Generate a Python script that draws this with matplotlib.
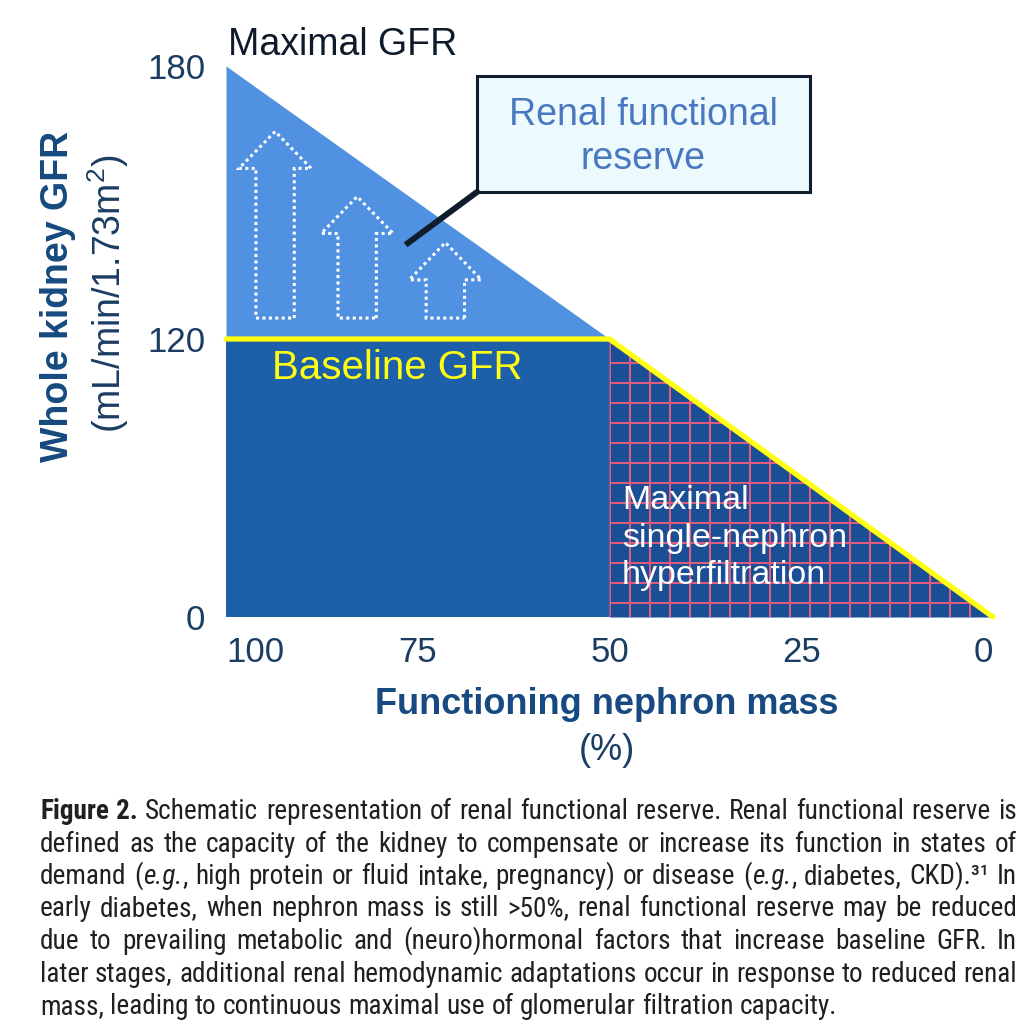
import re
import numpy as np
import matplotlib
matplotlib.use("Agg")
import matplotlib.pyplot as plt
from matplotlib.patches import Polygon, Rectangle
from matplotlib.lines import Line2D
from matplotlib import font_manager as fm

# ---- data (schematic values) ----
mass_pts = [100, 50, 0]            # functioning nephron mass (%)
baseline_gfr = [120, 120, 0]       # baseline GFR
maximal_gfr = [180, 120, 0]        # maximal GFR
x_ticks = [100, 75, 50, 25, 0]
y_ticks = [0, 120, 180]

# dotted "reserve" arrows: centre x, neck y, tip y (all start at arrow_base)
arrow_x = [93.6, 82.9, 71.4]
arrow_neck = [157.5, 143.2, 133.0]
arrow_tip = [165.6, 151.3, 141.2]
arrow_base = 124.6

caption_lines = [
    "**Figure** **2.** Schematic representation of renal functional reserve. Renal functional reserve is",
    "defined as the capacity of the kidney to compensate or increase its function in states of",
    "demand (*e.g.*, high protein or fluid intake, pregnancy) or disease (*e.g.*, diabetes, CKD).\u00b3\u00b9 In",
    "early diabetes, when nephron mass is still >50%, renal functional reserve may be reduced",
    "due to prevailing metabolic and (neuro)hormonal factors that increase baseline GFR. In",
    "later stages, additional renal hemodynamic adaptations occur in response to reduced renal",
    "mass, leading to continuous maximal use of glomerular filtration capacity.",
]

# colours
LIGHT = "#5091e2"
DARK = "#1d5fa8"
DARK2 = "#1a4f96"
GRIDRED = "#e65a7e"
YELLOW = "#ffff14"
NAVY = "#1b3d63"
NAVY_B = "#164a80"

plt.rcParams['font.family'] = ['Liberation Sans', 'DejaVu Sans']
plt.rcParams['mathtext.fontset'] = 'custom'
plt.rcParams['mathtext.rm'] = 'Liberation Sans'

fig = plt.figure(figsize=(10.23, 10.24), dpi=100)
W, H = 1023, 1024
ax = fig.add_axes([226 / W, 1 - 617 / H, (993 - 226) / W, (617 - 66) / H])


# piecewise y scale: the schematic stretches the 120-180 band
def fwd(y):
    y = np.asarray(y, float)
    return np.where(y <= 120, y * 278 / 120, 278 + (y - 120) * 273 / 60)


def inv(v):
    v = np.asarray(v, float)
    return np.where(v <= 278, v * 120 / 278, 120 + (v - 278) * 60 / 273)


ax.set_yscale('function', functions=(fwd, inv))
ax.set_xlim(100, 0)
ax.set_ylim(0, 180)

# areas
ax.fill_between(mass_pts, baseline_gfr, maximal_gfr, color=LIGHT, lw=0, zorder=1)
ax.fill_between(mass_pts[:2], 0, baseline_gfr[:2], color=DARK, lw=0, zorder=1)
hyper = ax.fill_between(mass_pts[1:], 0, baseline_gfr[1:], color=DARK2, lw=0, zorder=1)

# red grid in the hyperfiltration zone
clip_path = hyper.get_paths()[0]
gx = np.arange(50, 0, -2.61)
gy = np.arange(6.0, 120, 8.63)
vl = ax.vlines(gx, 0, 120, colors=GRIDRED, lw=1.4, zorder=2)
hl = ax.hlines(gy, 0, 50, colors=GRIDRED, lw=1.4, zorder=2)
for c in (vl, hl):
    c.set_clip_path(clip_path, ax.transData)

# baseline GFR line
ax.plot(mass_pts, baseline_gfr, color=YELLOW, lw=3.8, solid_capstyle='round',
        solid_joinstyle='miter', zorder=4, clip_on=False)

# dotted arrows
hs, hh = 2.5, 4.7
for xc, yn, yt in zip(arrow_x, arrow_neck, arrow_tip):
    pts = [(xc - hs, arrow_base), (xc - hs, yn), (xc - hh, yn), (xc, yt),
           (xc + hh, yn), (xc + hs, yn), (xc + hs, arrow_base)]
    ax.add_patch(Polygon(pts, closed=True, fill=False, edgecolor='white',
                         lw=2.2, linestyle=(0, (1, 1.1)), zorder=3))

# axes styling
for s in ax.spines.values():
    s.set_visible(False)
ax.set_xticks(x_ticks)
ax.set_xticklabels([str(v) for v in x_ticks])
ax.set_yticks(y_ticks)
ax.set_yticklabels([str(v) for v in y_ticks])
ax.tick_params(length=0, labelsize=25, colors=NAVY)
ax.tick_params(axis='x', pad=14)
ax.tick_params(axis='y', pad=15)
xt = ax.get_xticklabels()
xt[0].set_ha('left')
xt[-1].set_ha('right')

# in-plot text
fig.text(228 / W, 1 - 45 / H, "Maximal GFR", fontsize=27, color='#0d1a2a',
         ha='left', va='center')
fig.text(272 / W, 1 - 368 / H, "Baseline GFR", fontsize=29, color=YELLOW,
         ha='left', va='center')
fig.text(622 / W, 1 - 538 / H, "Maximal\nsingle-nephron\nhyperfiltration",
         fontsize=24.5, color='white', ha='left', va='center', linespacing=1.27)

# callout box
fig.add_artist(Rectangle((477 / W, 1 - 192 / H), 333 / W, 116 / H,
                         transform=fig.transFigure, facecolor='#ecf9fd',
                         edgecolor='#0f1c2c', lw=2.2, zorder=5))
fig.text(643 / W, 1 - 137 / H, "Renal functional\nreserve", fontsize=27,
         color='#4a78c0', ha='center', va='center', linespacing=1.3, zorder=6)
fig.add_artist(Line2D([477 / W, 408 / W], [1 - 192 / H, 1 - 243 / H],
                      transform=fig.transFigure, color='#0f1c2c', lw=4.3,
                      zorder=5))

# axis titles
fig.text(58 / W, 1 - 296 / H, "Whole kidney GFR", rotation=90, fontsize=27,
         fontweight='bold', color=NAVY_B, ha='center', va='center')
fig.text(108 / W, 1 - 294 / H, "(mL/min/1.73m$^2$)", rotation=90, fontsize=27,
         color=NAVY, ha='center', va='center')
fig.text(607 / W, 1 - 705 / H, "Functioning nephron mass", fontsize=26,
         fontweight='bold', color=NAVY_B, ha='center', va='center')
fig.text(607 / W, 1 - 750 / H, "(%)", fontsize=26, color=NAVY,
         ha='center', va='center')

# ---- caption, justified ----
names = {f.name for f in fm.fontManager.ttflist}
cap_kw = {'family': 'Liberation Sans'}
for cand in ['Liberation Sans Narrow', 'Roboto Condensed', 'Open Sans Condensed']:
    if cand in names:
        cap_kw = {'family': cand}
        break
else:
    if any(f.name == 'Noto Sans' and f.stretch == 'condensed' for f in fm.fontManager.ttflist):
        cap_kw = {'family': 'Noto Sans', 'fontstretch': 'condensed'}

fig.canvas.draw()
rend = fig.canvas.get_renderer()
CAP_COLOR = '#231f20'
left_px, right_px = 40, 1017


def parse_word(word):
    segs = []
    for part in re.split(r'(\*\*.+?\*\*|\*.+?\*)', word):
        if not part:
            continue
        if part.startswith('**'):
            segs.append((part[2:-2], 'bold', 'normal'))
        elif part.startswith('*'):
            segs.append((part[1:-1], 'normal', 'italic'))
        else:
            segs.append((part, 'normal', 'normal'))
    return segs


def seg_width(txt, weight, style, size):
    t = fig.text(0, 0, txt, fontsize=size, fontweight=weight, fontstyle=style, **cap_kw)
    w = t.get_window_extent(rend).width
    t.remove()
    return w


size = 17.5
space_w = seg_width("a a", 'normal', 'normal', size) - 2 * seg_width("a", 'normal', 'normal', size)
widths = []
for line in caption_lines:
    ws = [sum(seg_width(s, wt, st, size) for s, wt, st in parse_word(w)) for w in line.split()]
    widths.append(sum(ws) + space_w * (len(ws) - 1))
scale = min(1.3, (right_px - left_px - 6) / max(widths))
size *= scale
space_w *= scale

for i, line in enumerate(caption_lines):
    words = [parse_word(w) for w in line.split()]
    wwidths = [[seg_width(s, wt, st, size) for s, wt, st in segs] for segs in words]
    total = sum(sum(w) for w in wwidths)
    last = i == len(caption_lines) - 1
    gap = space_w if last else (right_px - left_px - total) / (len(words) - 1)
    x = left_px
    y = 1 - (819 + 32.5 * i) / H
    for segs, ws in zip(words, wwidths):
        for (s, wt, st), w in zip(segs, ws):
            fig.text(x / W, y, s, fontsize=size, fontweight=wt, fontstyle=st,
                     color=CAP_COLOR, ha='left', va='baseline', **cap_kw)
            x += w
        x += gap

fig.savefig("out.png", dpi=100, facecolor='white')
